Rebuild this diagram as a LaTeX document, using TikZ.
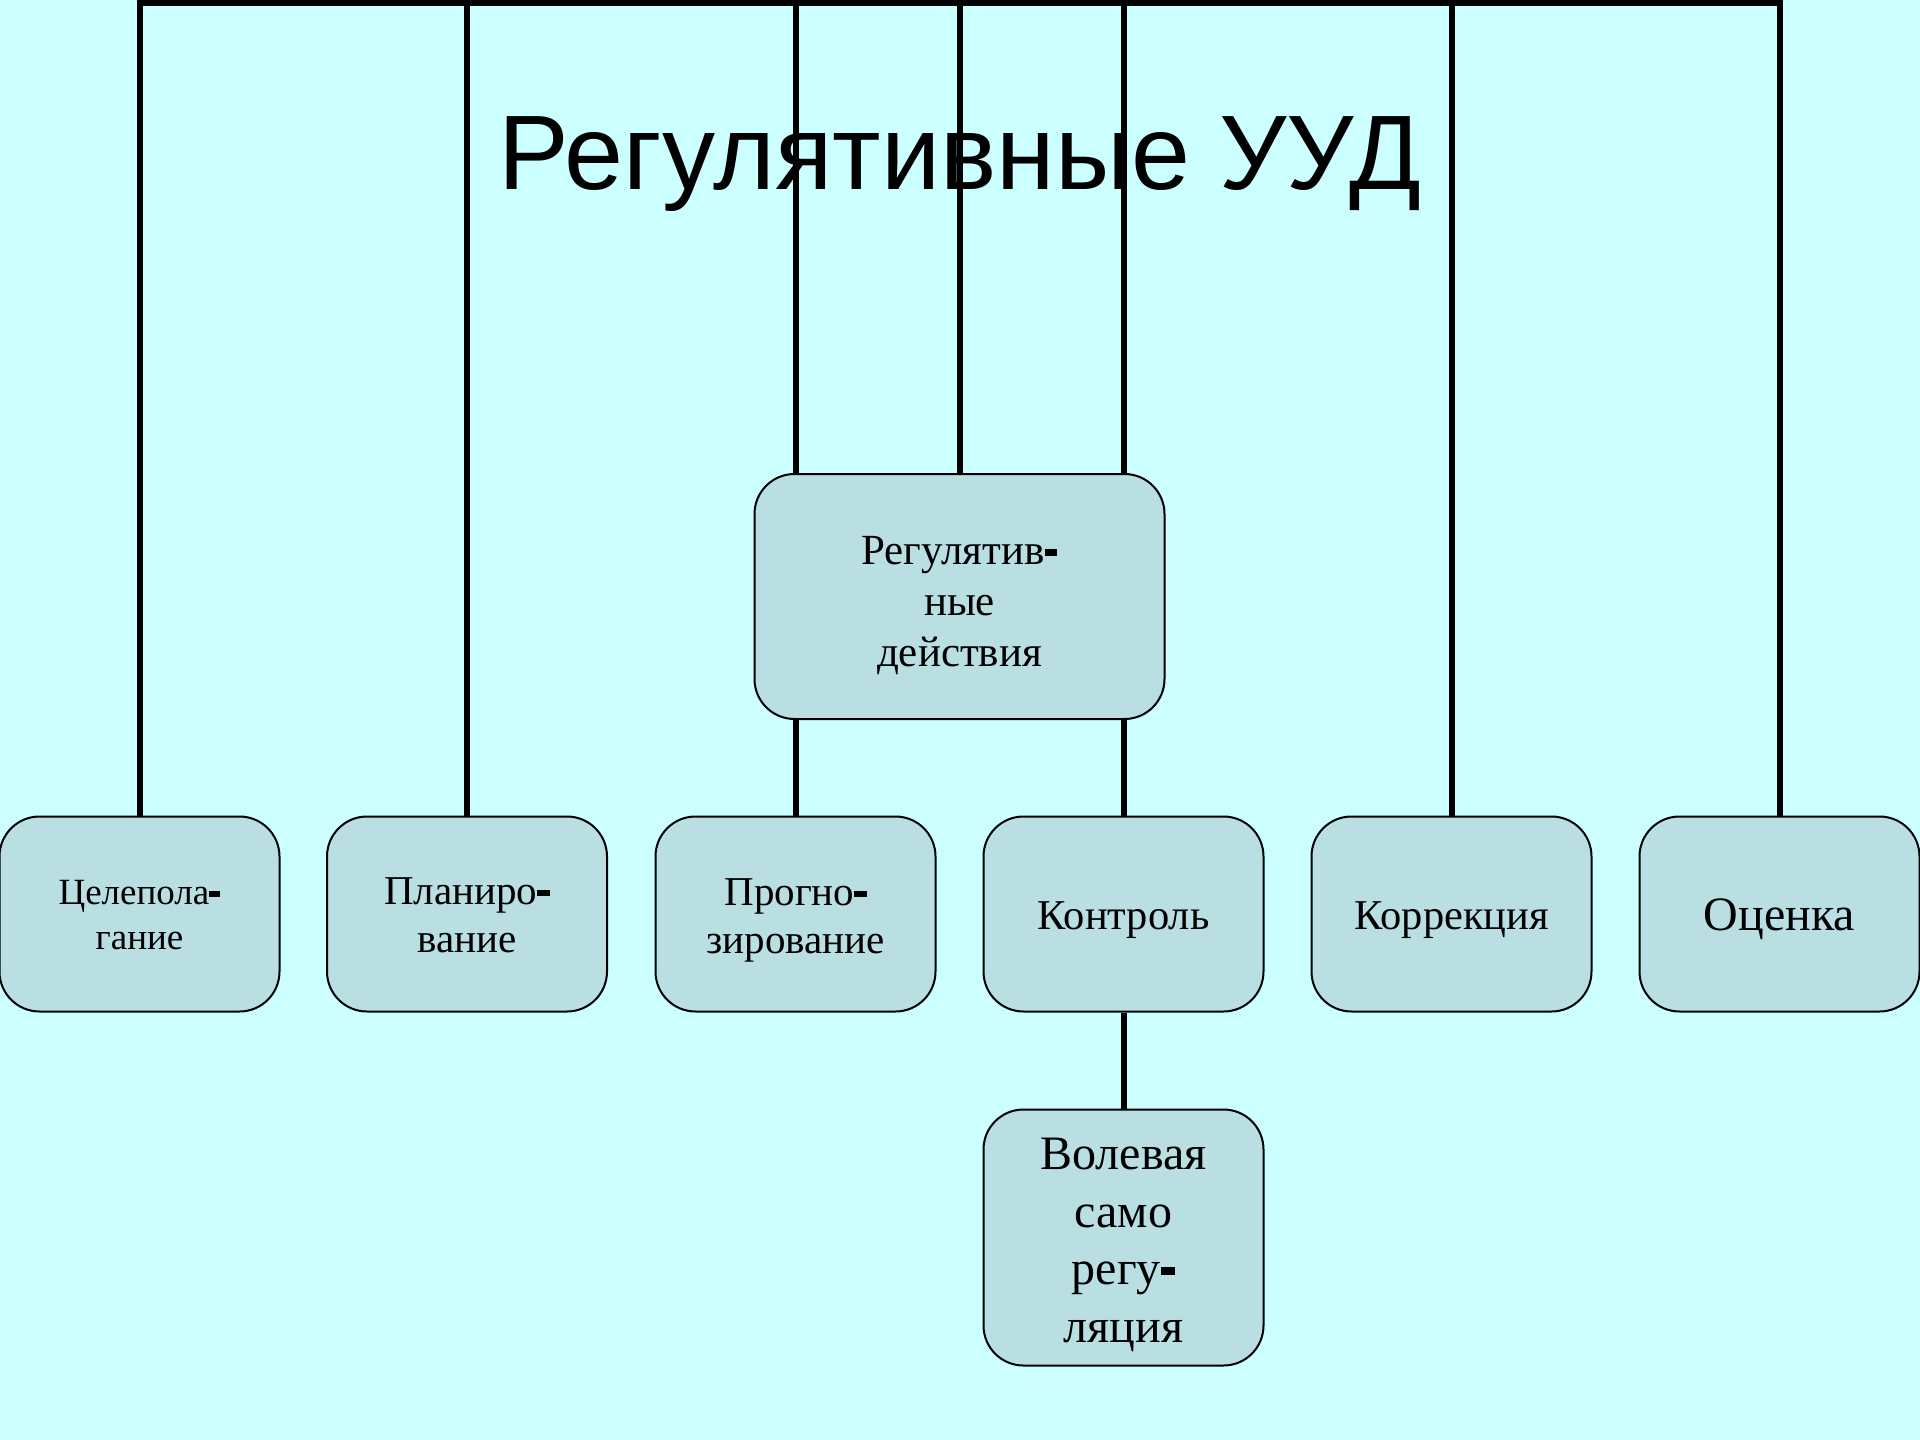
\documentclass[tikz,border=0pt]{standalone}
\usepackage{fontspec}
\setmainfont{Liberation Serif}
\newfontfamily\titlefont{Liberation Sans}
\definecolor{bgcol}{RGB}{204,255,255}
\definecolor{boxcol}{RGB}{186,223,227}
\newcommand{\hy}{\rule[0.2em]{0.3em}{0.16em}}
\newcommand{\bt}[2][7pt]{\raisebox{-#1}[\height][\depth]{\begin{tabular}{@{}c@{}}#2\end{tabular}}}
\pgfdeclarelayer{bgl}
\pgfdeclarelayer{lines}
\pgfsetlayers{bgl,lines,main}
\tikzset{
  box/.style={draw=black, line width=2pt, fill=boxcol, rounded corners=40pt,
    align=center, inner sep=0pt, minimum width=280pt, minimum height=195pt},
  conn/.style={draw=black, line width=6pt},
}
\begin{document}
\begin{tikzpicture}[x=1pt,y=-1pt]
\begin{pgfonlayer}{bgl}
\fill[bgcol] (0,0) rectangle (1920,1440);
\end{pgfonlayer}
\useasboundingbox (0,0) rectangle (1920,1440);
% nodes
\node[box, minimum width=410pt, minimum height=245pt,
  font=\fontsize{43}{51}\selectfont] (root) at (959.5,596.5) {\bt[9pt]{Регулятив\hy\\ные\\действия}};
\node[box, font=\fontsize{37}{45}\selectfont] (c1) at (139.5,914) {\bt[4pt]{Целепола\hy\\гание}};
\node[box, font=\fontsize{41}{48}\selectfont] (c2) at (467,914) {\bt[5pt]{Планиро\hy\\вание}};
\node[box, font=\fontsize{41}{48}\selectfont] (c3) at (795.5,914) {\bt[6pt]{Прогно\hy\\зирование}};
\node[box, font=\fontsize{42.5}{48}\selectfont] (c4) at (1123.5,914) {\bt[6pt]{Контроль}};
\node[box, font=\fontsize{42.5}{48}\selectfont] (c5) at (1451.5,914) {\bt[6pt]{Коррекция}};
\node[box, font=\fontsize{48}{53}\selectfont] (c6) at (1779.5,914) {\bt[6pt]{Оценка}};
\node[box, minimum height=256pt, font=\fontsize{48}{57.5}\selectfont] (d1) at (1123.5,1237.5) {\bt{Волевая\\само\\регу\hy\\ляция}};
% title
\node[anchor=base, inner sep=0pt, font=\titlefont\fontsize{106}{120}\selectfont] (title) at (960,189) {Регулятивные УУД};
% connectors
\begin{pgfonlayer}{lines}
\coordinate (t1) at (c1.north |- 0,2.5);
\coordinate (t2) at (c2.north |- 0,2.5);
\coordinate (t3) at (c3.north |- 0,2.5);
\coordinate (t4) at (root.north |- 0,2.5);
\coordinate (t5) at (c4.north |- 0,2.5);
\coordinate (t6) at (c5.north |- 0,2.5);
\coordinate (t7) at (c6.north |- 0,2.5);
\draw[conn, line cap=rect] (t1) -- (t7);
\draw[conn] (t1) -- (c1.north);
\draw[conn] (t2) -- (c2.north);
\draw[conn] (t3) -- (c3.north);
\draw[conn] (t4) -- (root.north);
\draw[conn] (t5) -- (c4.north);
\draw[conn] (t6) -- (c5.north);
\draw[conn] (t7) -- (c6.north);
\draw[conn] (c4.south) -- (d1.north);
\end{pgfonlayer}
\end{tikzpicture}
\end{document}
